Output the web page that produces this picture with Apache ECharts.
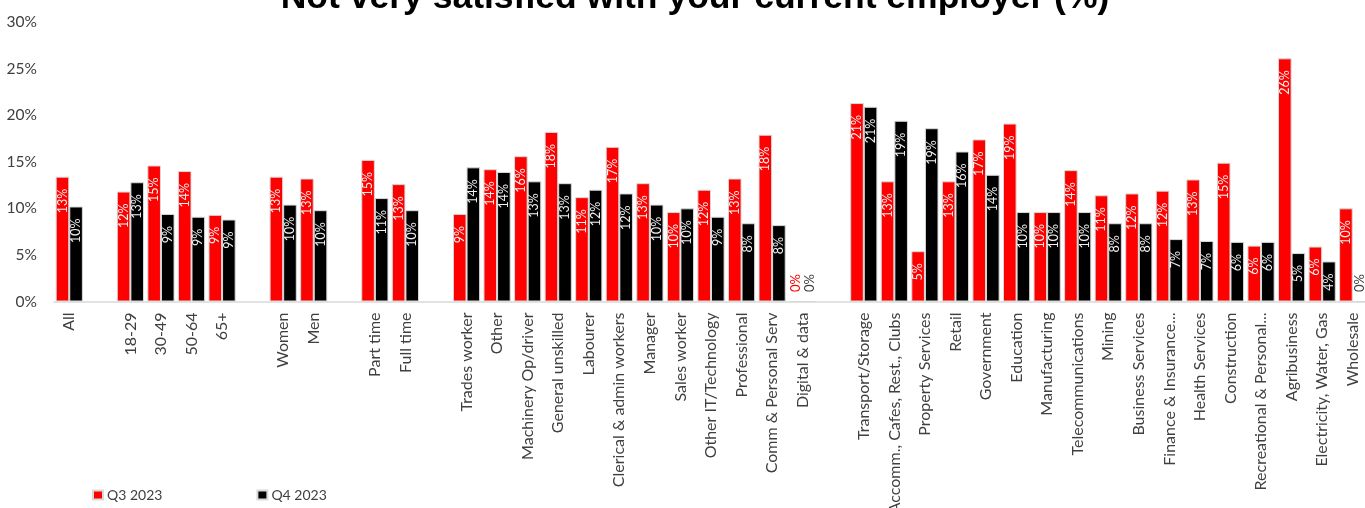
<!DOCTYPE html>
<html>
<head>
<meta charset="utf-8">
<title>Not very satisfied with your current employer (%)</title>
<script src="https://cdn.jsdelivr.net/npm/echarts@6/dist/echarts.min.js"></script>
<style>
  html, body { margin: 0; padding: 0; background: #ffffff; }
  #chart { width: 1365px; height: 508px; }
</style>
</head>
<body>
<div id="chart"></div>
<script>
// Category groups; blank entries keep the spacing between groups.
const categories = [
  'All', ' ',
  '18-29', '30-49', '50-64', '65+', '  ',
  'Women', 'Men', '   ',
  'Part time', 'Full time', '    ',
  'Trades worker', 'Other', 'Machinery Op/driver', 'General unskilled', 'Labourer',
  'Clerical & admin workers', 'Manager', 'Sales worker', 'Other IT/Technology',
  'Professional', 'Comm & Personal Serv', 'Digital & data', '     ',
  'Transport/Storage', 'Accomm., Cafes, Rest., Clubs', 'Property Services', 'Retail',
  'Government', 'Education', 'Manufacturing', 'Telecommunications', 'Mining',
  'Business Services', 'Finance & Insurance...', 'Health Services', 'Construction',
  'Recreational & Personal...', 'Agribusiness', 'Electricity, Water, Gas', 'Wholesale'
];

// Share not very satisfied with their current employer, in percent
const q3_2023 = [
  13.4, null,
  11.8, 14.6, 14.0, 9.3, null,
  13.4, 13.2, null,
  15.2, 12.6, null,
  9.4, 14.2, 15.6, 18.2, 11.2, 16.6, 12.7, 9.6, 12.0, 13.2, 17.9, 0, null,
  21.3, 12.9, 5.4, 12.9, 17.4, 19.1, 9.6, 14.1, 11.4, 11.6, 11.9, 13.1, 14.9, 6.0, 26.1, 5.9, 10.0
];
const q4_2023 = [
  10.2, null,
  12.8, 9.4, 9.1, 8.8, null,
  10.4, 9.8, null,
  11.1, 9.8, null,
  14.4, 13.9, 12.9, 12.7, 12.0, 11.6, 10.4, 10.0, 9.1, 8.4, 8.2, 0, null,
  20.9, 19.4, 18.6, 16.1, 13.6, 9.6, 9.6, 9.6, 8.4, 8.4, 6.7, 6.5, 6.4, 6.4, 5.2, 4.3, 0
];

const yTicks = { min: 0, max: 30, interval: 5 };

const LABEL_FONT = 'Lato, "Open Sans", sans-serif';
const RED = '#ff0000';
const BLACK = '#000000';
const TEXT = '#404040';

// Zero values get their label sitting on the axis in the series colour.
function withLabels(values, zeroColor) {
  return values.map(v => {
    if (v === null) return null;
    if (v === 0) {
      return {
        value: 0,
        label: { position: 'insideBottom', align: 'left', color: zeroColor, distance: 10, fontSize: 13 }
      };
    }
    return v;
  });
}

function barSeries(name, values, color, zeroColor) {
  return {
    name: name,
    type: 'bar',
    data: withLabels(values, zeroColor),
    barGap: '0%',
    barCategoryGap: '11%',
    itemStyle: { color: color, borderColor: '#d9d9d9', borderWidth: 1 },
    label: {
      show: true,
      position: 'insideTop',
      rotate: 90,
      align: 'right',
      verticalAlign: 'middle',
      distance: 12,
      fontSize: 12.5,
      fontFamily: LABEL_FONT,
      color: '#f2f2f2',
      formatter: p => Math.round(p.value) + '%'
    },
    emphasis: { disabled: true },
    animation: false
  };
}

const chart = echarts.init(document.getElementById('chart'), null, { renderer: 'canvas' });
chart.setOption({
  backgroundColor: '#ffffff',
  title: {
    text: 'Not very satisfied with your current employer (%)',
    left: 690,
    textAlign: 'center',
    top: -25,
    textStyle: {
      fontFamily: '"Liberation Sans", Arial, sans-serif',
      fontWeight: 'bold',
      fontSize: 35.5,
      color: '#000000'
    }
  },
  legend: {
    left: 92,
    top: 488,
    padding: 0,
    itemWidth: 10,
    itemHeight: 9,
    itemGap: 94,
    icon: 'rect',
    textStyle: { fontFamily: LABEL_FONT, fontSize: 14, color: TEXT, padding: [0, 0, 0, -1] },
    data: ['Q3 2023', 'Q4 2023']
  },
  grid: { left: 54, right: -3, top: 22, bottom: 206.5, outerBoundsMode: 'none' },
  xAxis: {
    type: 'category',
    data: categories,
    axisTick: { show: false },
    axisLine: { lineStyle: { color: '#d9d9d9', width: 1.5 } },
    axisLabel: {
      interval: 0,
      rotate: 90,
      margin: 11,
      fontFamily: LABEL_FONT,
      fontSize: 16,
      color: TEXT
    }
  },
  yAxis: {
    type: 'value',
    min: yTicks.min,
    max: yTicks.max,
    interval: yTicks.interval,
    splitLine: { show: false },
    axisLine: { show: false },
    axisTick: { show: false },
    axisLabel: {
      formatter: '{value}%',
      margin: 17,
      fontFamily: LABEL_FONT,
      fontSize: 15.5,
      color: TEXT
    }
  },
  series: [
    barSeries('Q3 2023', q3_2023, RED, RED),
    barSeries('Q4 2023', q4_2023, BLACK, TEXT)
  ]
});
</script>
</body>
</html>
